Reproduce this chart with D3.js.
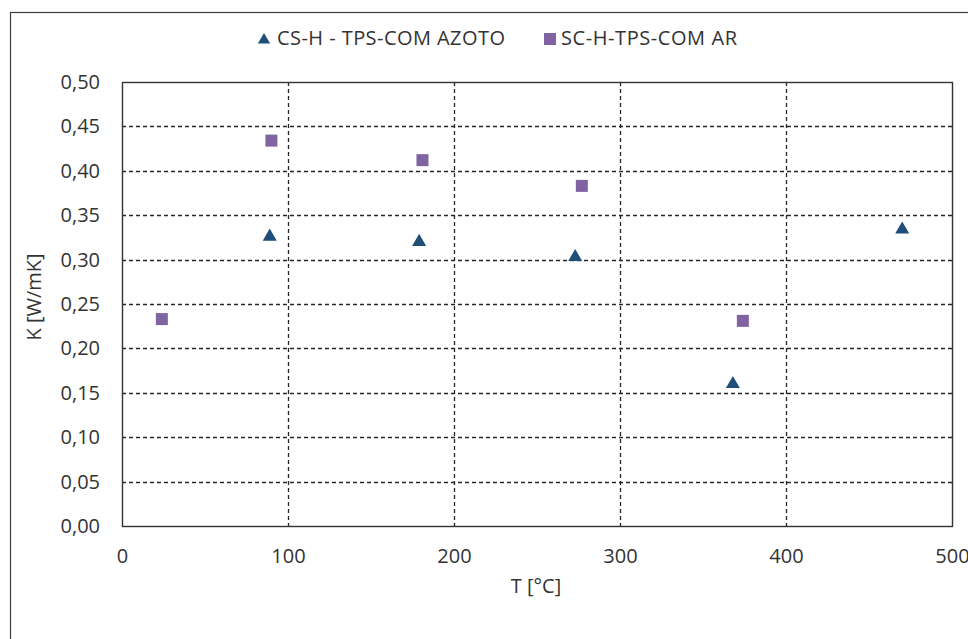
<!DOCTYPE html>
<html><head><meta charset="utf-8">
<script src="https://cdn.jsdelivr.net/npm/d3@7"></script>
<style>
html,body{margin:0;padding:0;background:#fff;}
svg text{font-family:"Open Sans",sans-serif;fill:#333;}
</style></head>
<body><svg id="c" width="968" height="639"></svg>
<script>
const seriesNames = ["CS-H - TPS-COM AZOTO", "SC-H-TPS-COM AR"];
const azotoT = [89, 179, 273, 368, 470];
const azotoK = [0.327, 0.321, 0.304, 0.161, 0.335];
const arT = [24, 90, 181, 277, 374];
const arK = [0.233, 0.434, 0.412, 0.383, 0.231];
const xTicks = [0, 100, 200, 300, 400, 500];
const yTicks = [0, 0.05, 0.10, 0.15, 0.20, 0.25, 0.30, 0.35, 0.40, 0.45, 0.50];
const xTitle = "T [°C]";
const yTitle = "K [W/mK]";

const svg = d3.select("#c");
const L = 122, R = 952, T = 82, B = 526;
const FS = 20;
const x = d3.scaleLinear().domain([0, 500]).range([L, R]);
const y = d3.scaleLinear().domain([0, 0.5]).range([B, T]);

// outer chart border
svg.append("rect").attr("x", 10.5).attr("y", 12.5).attr("width", 970).attr("height", 640)
  .attr("fill", "#fff").attr("stroke", "#404040").attr("stroke-width", 1.2);

// grid
const grid = svg.append("g").attr("stroke", "#262626").attr("stroke-width", 1.3).attr("stroke-dasharray", "4,3");
grid.selectAll("line.h").data(yTicks.filter(d => d > 0 && d < 0.5)).join("line")
  .attr("x1", L).attr("x2", R).attr("y1", d => Math.round(y(d)) + 0.5).attr("y2", d => Math.round(y(d)) + 0.5);
grid.selectAll("line.v").data(xTicks.filter(d => d > 0 && d < 500)).join("line")
  .attr("y1", T).attr("y2", B).attr("x1", d => Math.round(x(d)) + 0.5).attr("x2", d => Math.round(x(d)) + 0.5);

// plot border
svg.append("rect").attr("x", L + 0.5).attr("y", T + 0.5).attr("width", R - L).attr("height", B - T)
  .attr("fill", "none").attr("stroke", "#333").attr("stroke-width", 1.4);

// axes labels
const xAxis = d3.axisBottom(x).tickValues(xTicks).tickSize(0).tickPadding(23).tickFormat(d3.format("d"));
const gx = svg.append("g").attr("transform", `translate(0,${B})`).call(xAxis);
gx.select(".domain").remove();
gx.selectAll("text").attr("font-size", FS).attr("fill", "#333").attr("font-family", "Open Sans");

const fmtY = d => d3.format(".2f")(d).replace(".", ",");
const yAxis = d3.axisLeft(y).tickValues(yTicks).tickSize(0).tickPadding(22).tickFormat(fmtY);
const gy = svg.append("g").attr("transform", `translate(${L},0)`).call(yAxis);
gy.select(".domain").remove();
gy.selectAll("text").attr("font-size", FS).attr("fill", "#333").attr("font-family", "Open Sans");

svg.append("text").attr("x", 536).attr("y", 593).attr("text-anchor", "middle").attr("font-size", FS).text(xTitle);
svg.append("text").attr("transform", "translate(41,297) rotate(-90)").attr("text-anchor", "middle").attr("font-size", FS).text(yTitle);

// markers
const triColor = "#1F4E79", sqColor = "#8064A2";
const tri = d3.symbol().type(d3.symbolTriangle).size(85);
svg.append("g").selectAll("path").data(azotoT.map((t, i) => [t, azotoK[i]])).join("path")
  .attr("d", tri).attr("transform", d => `translate(${x(d[0])},${y(d[1]) + 1})`).attr("fill", triColor);
svg.append("g").selectAll("rect").data(arT.map((t, i) => [t, arK[i]])).join("rect")
  .attr("x", d => x(d[0]) - 6).attr("y", d => y(d[1]) - 6).attr("width", 12).attr("height", 12)
  .attr("fill", sqColor);

// legend
const lg = svg.append("g");
lg.append("path").attr("d", d3.symbol().type(d3.symbolTriangle).size(65)).attr("transform", "translate(264,40)").attr("fill", triColor);
lg.append("text").attr("x", 277).attr("y", 45).attr("font-size", FS).attr("textLength", 228).text(seriesNames[0]);
lg.append("rect").attr("x", 544).attr("y", 33).attr("width", 12).attr("height", 12).attr("fill", sqColor);
lg.append("text").attr("x", 561).attr("y", 45).attr("font-size", FS).attr("textLength", 176).text(seriesNames[1]);
</script></body></html>
